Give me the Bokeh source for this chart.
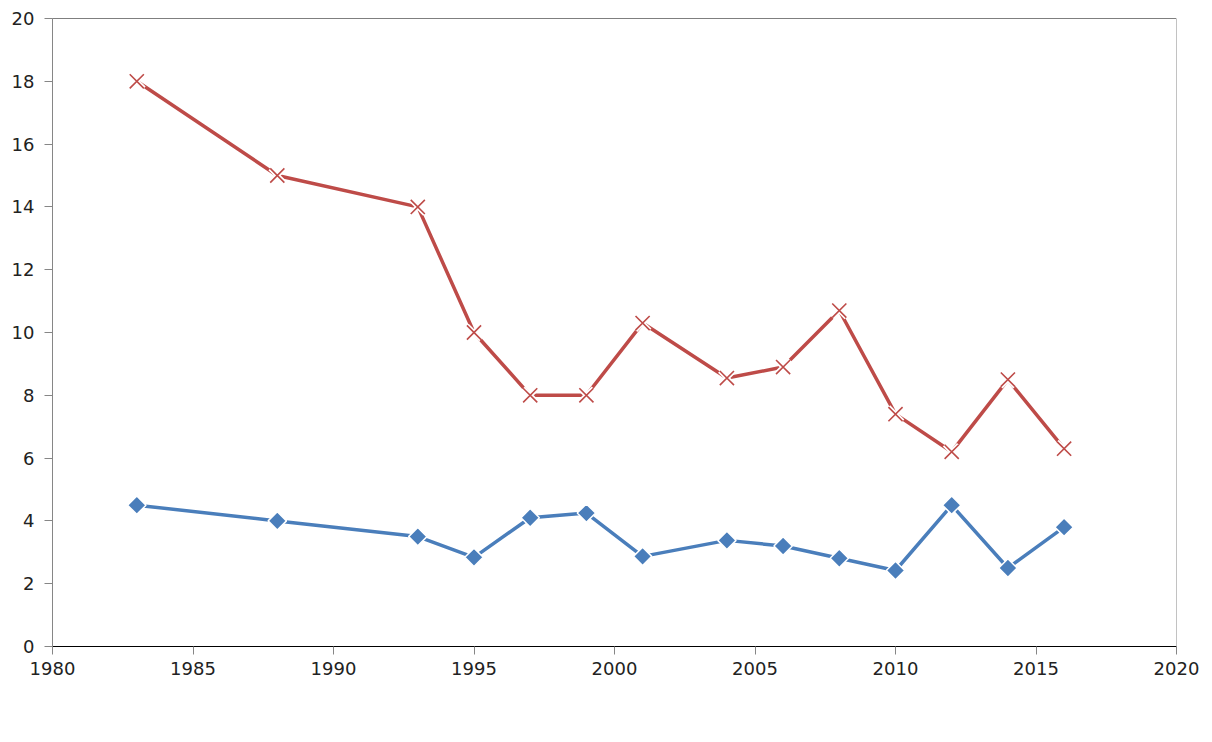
import math
from bokeh.plotting import figure
from bokeh.models import Range1d, FixedTicker, Span, Legend, LegendItem, LinearAxis
from bokeh.embed import file_html
from bokeh.resources import INLINE

years_p = [1983, 1988, 1993, 1995, 1997, 1999, 2001, 2004, 2006, 2008, 2010, 2012, 2014, 2016]
phosphorus = [18, 15, 14, 10, 8, 8, 10.3, 8.55, 8.9, 10.7, 7.4, 6.2, 8.5, 6.3]
years_s = [1983, 1988, 1993, 1995, 1997, 1999, 2001, 2004, 2006, 2008, 2010, 2012, 2014, 2016]
secchi = [4.5, 4.0, 3.5, 2.84, 4.1, 4.25, 2.87, 3.38, 3.2, 2.81, 2.42, 4.5, 2.5, 3.8]
x_ticks = [1980, 1985, 1990, 1995, 2000, 2005, 2010, 2015, 2020]
y_ticks = [0, 2, 4, 6, 8, 10, 12, 14, 16, 18, 20]

FONT = "DejaVu Sans"
BLUE = "#4A7EBB"
RED = "#BE4B48"

p = figure(frame_width=1124, frame_height=628, output_backend="svg", toolbar_location=None,
           x_range=Range1d(1980, 2020), y_range=Range1d(0, 20),
           min_border_left=52, min_border_right=36, min_border_top=18,
           min_border_bottom=0)
p.outline_line_color = None
p.grid.visible = False
p.background_fill_color = "white"

p.xaxis.ticker = FixedTicker(ticks=x_ticks)
p.yaxis.ticker = FixedTicker(ticks=y_ticks)
for ax in (p.xaxis, p.yaxis):
    ax.major_label_text_font = FONT
    ax.major_label_text_font_size = "18px"
    ax.major_label_text_color = "#222222"
    ax.minor_tick_line_color = None
    ax.major_tick_in = 0
    ax.major_tick_out = 8
    ax.major_tick_line_color = "#868686"
p.xaxis.axis_line_color = "black"
p.yaxis.axis_line_color = "#868686"
p.xaxis.major_label_standoff = 7
p.yaxis.major_label_standoff = 10

# empty spacer axis to push the legend down a little
spacer = LinearAxis(ticker=FixedTicker(ticks=[]), axis_line_color=None,
                    major_tick_line_color=None, minor_tick_line_color=None,
                    major_tick_in=0, major_tick_out=16, major_label_standoff=0)
p.add_layout(spacer, "below")

p.add_layout(Span(location=20, dimension="width", line_color="black", line_width=1))
p.add_layout(Span(location=2020, dimension="height", line_color="#868686", line_width=1))

# Secchi
l1 = p.line(years_s, secchi, line_color=BLUE, line_width=3.5)
m1 = p.scatter(years_s, secchi, marker="square", size=13, angle=math.pi / 4,
               fill_color=BLUE, line_color="white", line_width=1.5)
# Phosphorus
l2 = p.line(years_p, phosphorus, line_color=RED, line_width=3.5)
m2w = p.scatter(years_p, phosphorus, marker="x", size=20, line_color="white", line_width=5)
m2 = p.scatter(years_p, phosphorus, marker="x", size=20, line_color=RED, line_width=1.6)

legend = Legend(items=[LegendItem(label="Secchi Depth (m)", renderers=[l1, m1]),
                       LegendItem(label="Spring Phosphorus (µg/L)", renderers=[l2, m2w, m2])],
                orientation="horizontal", location="center",
                label_text_font=FONT, label_text_font_size="19px",
                label_text_color="#222222", glyph_width=36, glyph_height=22,
                label_standoff=4, label_height=22,
                spacing=150, border_line_color=None, background_fill_alpha=0,
                margin=4, padding=4)
p.add_layout(legend, "below")

open("out.html", "w").write(file_html(p, INLINE))
